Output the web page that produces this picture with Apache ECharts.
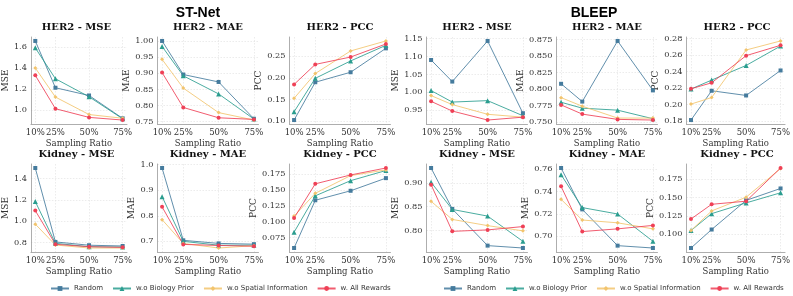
<!DOCTYPE html>
<html><head><meta charset="utf-8">
<script src="https://cdn.jsdelivr.net/npm/echarts@6/dist/echarts.min.js"></script>
<style>html,body{margin:0;padding:0;background:#fff}#c{width:793px;height:296px}</style>
</head><body><div id="c"></div>
<script>
// ---- data ----
const xTicks = [10, 25, 50, 75];
const seriesNames = ['Random', 'w.o Biology Prior', 'w.o Spatial Information', 'w. All Rewards'];
// each panel: [Random, w.o Biology Prior, w.o Spatial Information, w. All Rewards]
const stnetHer2MSE = [[1.655,1.213,1.140,0.924],[1.590,1.298,1.128,0.920],[1.400,1.125,0.960,0.925],[1.330,1.015,0.933,0.908]];
const stnetHer2MAE = [[1.000,0.896,0.873,0.759],[0.983,0.892,0.836,0.758],[0.943,0.854,0.778,0.755],[0.902,0.794,0.762,0.757]];
const stnetHer2PCC = [[0.103,0.190,0.213,0.268],[0.122,0.199,0.239,0.275],[0.153,0.210,0.262,0.285],[0.185,0.231,0.248,0.278]];
const bleepHer2MSE = [[1.090,1.030,1.143,0.942],[1.005,0.973,0.977,0.935],[0.991,0.966,0.939,0.931],[0.975,0.948,0.923,0.931]];
const bleepHer2MAE = [[0.808,0.781,0.873,0.798],[0.780,0.771,0.768,0.755],[0.787,0.774,0.756,0.756],[0.776,0.762,0.754,0.753]];
const bleepHer2PCC = [[0.181,0.2166,0.2109,0.2413],[0.2187,0.2296,0.2474,0.271],[0.2004,0.2084,0.2662,0.2772],[0.219,0.2263,0.2593,0.2719]];
const stnetKidMSE = [[1.500,0.806,0.775,0.768],[1.185,0.793,0.761,0.758],[0.973,0.777,0.749,0.749],[1.100,0.784,0.761,0.755]];
const stnetKidMAE = [[0.987,0.704,0.692,0.689],[0.875,0.700,0.685,0.685],[0.785,0.692,0.674,0.683],[0.835,0.688,0.684,0.681]];
const stnetKidPCC = [[0.0586,0.134,0.149,0.169],[0.0836,0.141,0.165,0.181],[0.109,0.145,0.173,0.182],[0.106,0.160,0.174,0.185]];
const bleepKidMSE = [[0.931,0.845,0.768,0.763],[0.901,0.844,0.830,0.777],[0.861,0.823,0.810,0.799],[0.896,0.798,0.801,0.808]];
const bleepKidMAE = [[0.761,0.724,0.6916,0.6895],[0.755,0.7256,0.7199,0.6955],[0.733,0.7145,0.712,0.7066],[0.7446,0.7042,0.7066,0.7097]];
const bleepKidPCC = [[0.0813,0.1064,0.146,0.1622],[0.105,0.128,0.1426,0.1563],[0.105,0.1317,0.1503,0.1893],[0.1207,0.1407,0.1449,0.190]];
// y tick labels per panel
const ticksStHer2MSE = [1.0,1.2,1.4,1.6];
const ticksStHer2MAE = [0.75,0.80,0.85,0.90,0.95,1.00];
const ticksStHer2PCC = [0.10,0.15,0.20,0.25];
const ticksBlHer2MSE = [0.95,1.00,1.05,1.10,1.15];
const ticksBlHer2MAE = [0.750,0.775,0.800,0.825,0.850,0.875];
const ticksBlHer2PCC = [0.18,0.20,0.22,0.24,0.26,0.28];
const ticksStKidMSE = [0.8,1.0,1.2,1.4];
const ticksStKidMAE = [0.7,0.8,0.9,1.0];
const ticksStKidPCC = [0.075,0.100,0.125,0.150,0.175];
const ticksBlKidMSE = [0.80,0.85,0.90];
const ticksBlKidMAE = [0.70,0.72,0.74,0.76];
const ticksBlKidPCC = [0.100,0.125,0.150,0.175];

const panels = [
  {title:'HER2 - MSE', name:'MSE', data:stnetHer2MSE, ticks:ticksStHer2MSE, dec:1},
  {title:'HER2 - MAE', name:'MAE', data:stnetHer2MAE, ticks:ticksStHer2MAE, dec:2},
  {title:'HER2 - PCC', name:'PCC', data:stnetHer2PCC, ticks:ticksStHer2PCC, dec:2},
  {title:'HER2 - MSE', name:'MSE', data:bleepHer2MSE, ticks:ticksBlHer2MSE, dec:2},
  {title:'HER2 - MAE', name:'MAE', data:bleepHer2MAE, ticks:ticksBlHer2MAE, dec:3},
  {title:'HER2 - PCC', name:'PCC', data:bleepHer2PCC, ticks:ticksBlHer2PCC, dec:2},
  {title:'Kidney - MSE', name:'MSE', data:stnetKidMSE, ticks:ticksStKidMSE, dec:1},
  {title:'Kidney - MAE', name:'MAE', data:stnetKidMAE, ticks:ticksStKidMAE, dec:1},
  {title:'Kidney - PCC', name:'PCC', data:stnetKidPCC, ticks:ticksStKidPCC, dec:3},
  {title:'Kidney - MSE', name:'MSE', data:bleepKidMSE, ticks:ticksBlKidMSE, dec:2},
  {title:'Kidney - MAE', name:'MAE', data:bleepKidMAE, ticks:ticksBlKidMAE, dec:2},
  {title:'Kidney - PCC', name:'PCC', data:bleepKidPCC, ticks:ticksBlKidPCC, dec:3}
];

// ---- layout / style ----
const colLeft = [26, 157.5, 289.5, 426.5, 556.5, 686.5];
const plotW = 101;
const rowTop = [37, 164];
const rowH = [87, 88];
const yNameGap = [17, 20, 22, 19, 26, 19, 17, 16, 25, 19, 23, 24];
const colors = ['#457b9d', '#2a9d8f', '#f2c46d', '#ef4056'];
const symbols = ['rect', 'triangle', 'diamond', 'circle'];
const serif = '"DejaVu Serif", serif';

const grid = [], xAxis = [], yAxis = [], series = [], graphic = [];
panels.forEach((p, i) => {
  const row = Math.floor(i / 6), col = i % 6;
  const left = colLeft[col], top = rowTop[row], h = rowH[row];
  grid.push({left: left, top: top, width: plotW, height: h});
  const all = p.data.flat();
  const lo = Math.min(...all), hi = Math.max(...all), pad = (hi - lo) * 0.05;
  xAxis.push({
    gridIndex: i, type: 'value', min: 6.75, max: 78.25,
    name: 'Sampling Ratio', nameLocation: 'middle', nameGap: 15,
    nameTextStyle: {fontFamily: serif, fontSize: 8.5, color: '#333'},
    axisLine: {show: true, lineStyle: {color: '#999', width: 0.8}},
    axisTick: {show: false, customValues: xTicks},
    axisLabel: {customValues: xTicks, formatter: v => v + '%', fontFamily: serif, fontSize: 8.5, color: '#333', margin: 4},
    splitLine: {show: true, lineStyle: {color: '#e4e4e4', type: [1.5, 1.5], width: 0.7}}
  });
  yAxis.push({
    gridIndex: i, type: 'value', min: lo - pad, max: hi + pad,
    name: p.name, nameLocation: 'middle', nameGap: yNameGap[i], nameRotate: 90,
    nameTextStyle: {fontFamily: serif, fontSize: 9, color: '#333'},
    axisLine: {show: true, lineStyle: {color: '#999', width: 0.8}},
    axisTick: {show: false, customValues: p.ticks},
    axisLabel: {customValues: p.ticks, formatter: v => v.toFixed(p.dec), fontFamily: serif, fontSize: 8.2, color: '#333', margin: 4},
    splitLine: {show: true, lineStyle: {color: '#e4e4e4', type: [1.5, 1.5], width: 0.7}}
  });
  p.data.forEach((vals, k) => {
    series.push({
      type: 'line', name: seriesNames[k], xAxisIndex: i, yAxisIndex: i,
      data: xTicks.map((x, j) => [x, vals[j]]),
      symbol: symbols[k], symbolSize: k === 1 ? 5 : 4,
      lineStyle: {color: colors[k], width: 1, opacity: 0.85},
      itemStyle: {color: colors[k]},
      emphasis: {disabled: true}, animation: false
    });
  });
  graphic.push({type: 'text', x: left + plotW / 2, y: top - 5,
    style: {text: p.title, font: 'bold 10px ' + serif, fill: '#111', textAlign: 'center', textVerticalAlign: 'bottom', align: 'center', verticalAlign: 'bottom'}});
});
graphic.push({type: 'text', x: 198, y: 13, style: {text: 'ST-Net', font: 'bold 14px "Liberation Sans", Arial, sans-serif', fill: '#000', textAlign: 'center', textVerticalAlign: 'middle', align: 'center', verticalAlign: 'middle'}});
graphic.push({type: 'text', x: 594, y: 13, style: {text: 'BLEEP', font: 'bold 14px "Liberation Sans", Arial, sans-serif', fill: '#000', textAlign: 'center', textVerticalAlign: 'middle', align: 'center', verticalAlign: 'middle'}});

const legendBase = {
  top: 280, itemWidth: 18, itemHeight: 6, itemGap: 9, width: 380,
  textStyle: {fontFamily: '"DejaVu Sans", sans-serif', fontSize: 7, color: '#333'},
  data: seriesNames, selectedMode: false
};

const chart = echarts.init(document.getElementById('c'), null, {renderer: 'canvas'});
chart.setOption({
  backgroundColor: '#fff',
  animation: false,
  grid, xAxis, yAxis, series, graphic,
  legend: [Object.assign({left: 45}, legendBase), Object.assign({left: 438}, legendBase)]
});
</script></body></html>
